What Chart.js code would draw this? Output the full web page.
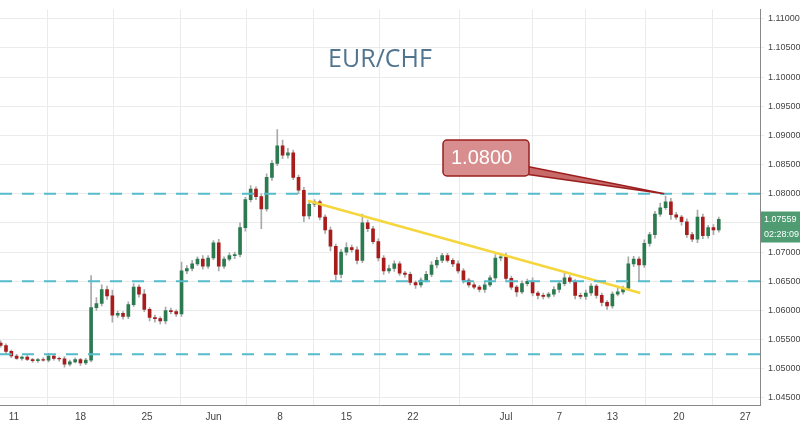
<!DOCTYPE html>
<html><head><meta charset="utf-8">
<script src="https://cdn.jsdelivr.net/npm/chart.js@4/dist/chart.umd.min.js"></script>
<style>html,body{margin:0;padding:0;background:#fff}#wrap{width:800px;height:429px}</style>
</head><body><div id="wrap"><canvas id="c"></canvas></div>
<script>
const startDay = -1.0, stepDay = 0.4;
const closes = [1.0540,1.0530,1.0522,1.0518,1.0520,1.0516,1.0514,1.0516,1.0515,1.0522,1.0518,1.0517,1.0508,1.0512,1.0516,1.0510,1.0515,
1.0605,1.0612,1.0636,1.0625,1.0592,1.0595,1.0590,1.0610,1.0640,1.0628,1.0602,1.0588,1.0586,1.0582,1.0600,1.0598,1.0594,1.0668,1.0672,1.0680,1.0688,1.0676,1.0690,
1.0716,1.0676,1.0688,1.0694,1.0696,1.0742,1.0790,1.0808,1.0795,1.0774,1.0828,1.0852,1.0882,1.0866,1.0870,1.0828,1.0806,1.0762,1.0782,1.0786,
1.0760,1.0738,1.0710,1.0662,1.0700,1.0708,1.0704,1.0686,1.0750,1.0740,1.0718,1.0690,1.0668,1.0672,1.0680,1.0664,1.0662,1.0648,1.0644,1.0652,
1.0662,1.0678,1.0686,1.0694,1.0686,1.0680,1.0668,1.0652,1.0644,1.0640,1.0636,1.0644,1.0656,1.0690,1.0692,1.0655,1.0640,1.0632,1.0646,1.0650,
1.0630,1.0626,1.0624,1.0628,1.0636,1.0646,1.0656,1.0650,1.0626,1.0624,1.0630,1.0642,1.0626,1.0614,1.0608,1.0628,1.0632,1.0638,1.0680,1.0688,
1.0678,1.0715,1.0730,1.0765,1.0776,1.0786,1.0764,1.0760,1.0752,1.0730,1.0722,1.0760,1.0728,1.0742,1.0738,1.0756];
const wickUpPips = [4,3,2,3,2,3,2,2,3,4,3,2,4,3,3,2,3,
55,10,8,6,10,4,3,5,6,4,8,3,4,3,6,4,3,15,5,6,4,6,4,
4,6,4,5,4,8,4,6,4,5,6,5,28,10,8,5,4,5,6,4,
3,4,5,4,5,8,4,5,15,5,4,5,4,6,5,4,3,4,3,4,
5,6,5,4,4,3,5,4,3,4,3,5,4,6,5,6,4,3,5,4,
6,3,4,3,5,4,8,4,3,4,5,4,3,4,3,4,6,4,12,5,
4,6,4,5,8,10,6,4,3,5,4,12,5,4,5,4];
const wickDnPips = [3,4,3,2,3,2,3,3,2,3,3,4,5,3,2,4,3,
3,5,4,6,12,4,5,4,3,5,4,6,6,5,5,4,4,4,5,4,3,5,4,
3,8,4,3,5,4,6,4,5,34,4,5,4,6,5,4,6,10,5,4,
5,6,8,10,6,5,4,6,4,5,4,5,6,4,5,4,5,4,6,4,
3,4,5,4,3,5,4,5,4,3,4,5,3,4,5,6,4,8,3,4,
5,6,4,3,4,5,4,3,6,4,5,4,5,6,6,4,3,4,4,5,
28,4,5,6,4,3,8,4,6,5,4,6,5,4,8,4];
const tickDays = [0,5,10,15,20,25,30,37,41,45,50,55];
const tickLabels = ["11","18","25","Jun","8","15","22","Jul","7","13","20","27"];
const levels = [1.0800,1.0650,1.0525];
const trendDays = [22.1,47.1];
const trendPrices = [1.0788,1.0630];
const calloutDay = 48.9, calloutPrice = 1.0800, calloutText = "1.0800";
const title = "EUR/CHF";
const lastPrice = "1.07559", countdown = "02:28:09";

const UP='#2b7a50', DN='#a81c1c';
const bodies=[], wicks=[], cols=[];
let prev = closes[0]+0.0004;
closes.forEach((c,i)=>{
  const x = startDay + stepDay*i, o = prev;
  const hi = Math.max(o,c)+wickUpPips[i]*0.0001, lo = Math.min(o,c)-wickDnPips[i]*0.0001;
  bodies.push({x, y:[o,c]}); wicks.push({x, y:[lo,hi]}); cols.push(c>=o?UP:DN); prev=c;
});
const xMin=-1.05, xMax=56.1;
const levelSets = levels.map(v=>({type:'line',data:[{x:xMin,y:v},{x:xMax,y:v}],borderColor:'#55bccb',borderWidth:2,borderDash:[12,10],pointRadius:0}));

const overlay = {id:'overlay', afterDatasetsDraw(ch){
  const g=ch.ctx, xs=ch.scales.x, ys=ch.scales.y;
  g.save();
  g.font='25px "Open Sans", Arial'; g.fillStyle='#52758f'; g.textAlign='center'; g.textBaseline='middle';
  g.fillText(title, 380, 60);
  const tx=xs.getPixelForValue(calloutDay), ty=ys.getPixelForValue(calloutPrice);
  g.fillStyle='#c96a6a'; g.strokeStyle='#9b1f1f'; g.lineWidth=1.5;
  g.beginPath(); g.moveTo(520,165); g.lineTo(tx,ty); g.lineTo(525,174); g.closePath(); g.fill(); g.stroke();
  g.fillStyle='#d88e8e';
  g.beginPath(); if(g.roundRect) g.roundRect(443,140,86,36,4); else g.rect(443,140,86,36); g.fill(); g.stroke();
  g.fillStyle='#fff'; g.font='20px "Liberation Sans", Arial'; g.textAlign='left';
  g.fillText(calloutText, 451, 158);
  const py=ys.getPixelForValue(1.07559);
  g.fillStyle='#4f9b72'; g.fillRect(761,py-8,39,16); g.fillRect(761,py+7,39,16);
  g.fillStyle='#fff'; g.font='9px "Liberation Sans", Arial'; g.textAlign='left';
  g.fillText(lastPrice, 764, py); g.fillText(countdown, 764, py+15);
  g.restore();
}};

new Chart(document.getElementById('c'),{
  type:'bar',
  data:{datasets:[
    {data:wicks, backgroundColor:'#a9a9a9', barThickness:1, grouped:false, order:3},
    {data:bodies, backgroundColor:ctx=>cols[ctx.dataIndex], barThickness:3, grouped:false, order:2},
    ...levelSets,
    {type:'line', data:trendDays.map((d,i)=>({x:d,y:trendPrices[i]})), borderColor:'#f5d63d', borderWidth:2.5, pointRadius:0, order:0}
  ]},
  options:{responsive:true, maintainAspectRatio:false, animation:false,
    layout:{padding:0},
    plugins:{legend:{display:false}, tooltip:{enabled:false}},
    scales:{
      x:{type:'linear', min:xMin, max:xMax, offset:false,
        afterBuildTicks(s){ s.ticks = tickDays.map(v=>({value:v})); },
        ticks:{callback:(v)=>{const k=tickDays.indexOf(v); return k>=0?tickLabels[k]:'';}, font:{size:10,family:'"Liberation Sans", Arial'}, color:'#444', maxRotation:0, autoSkip:false, padding:6},
        grid:{color:'#ebebeb', drawTicks:false}, border:{color:'#888'}},
      y:{position:'right', min:1.0438, max:1.1116,
        afterBuildTicks(s){ const t=[]; for(let k=0;k<=14;k++) t.push({value:+(1.04+0.005*k).toFixed(3)}); s.ticks=t.filter(o=>o.value>=s.min&&o.value<=s.max); },
        ticks:{callback:v=>v.toFixed(5), font:{size:9,family:'"Liberation Sans", Arial'}, color:'#444', padding:4},
        grid:{color:'#ebebeb', tickLength:4}, border:{color:'#888'}, afterFit(s){s.width=40;}}
    }
  },
  plugins:[overlay]
});
</script></body></html>
